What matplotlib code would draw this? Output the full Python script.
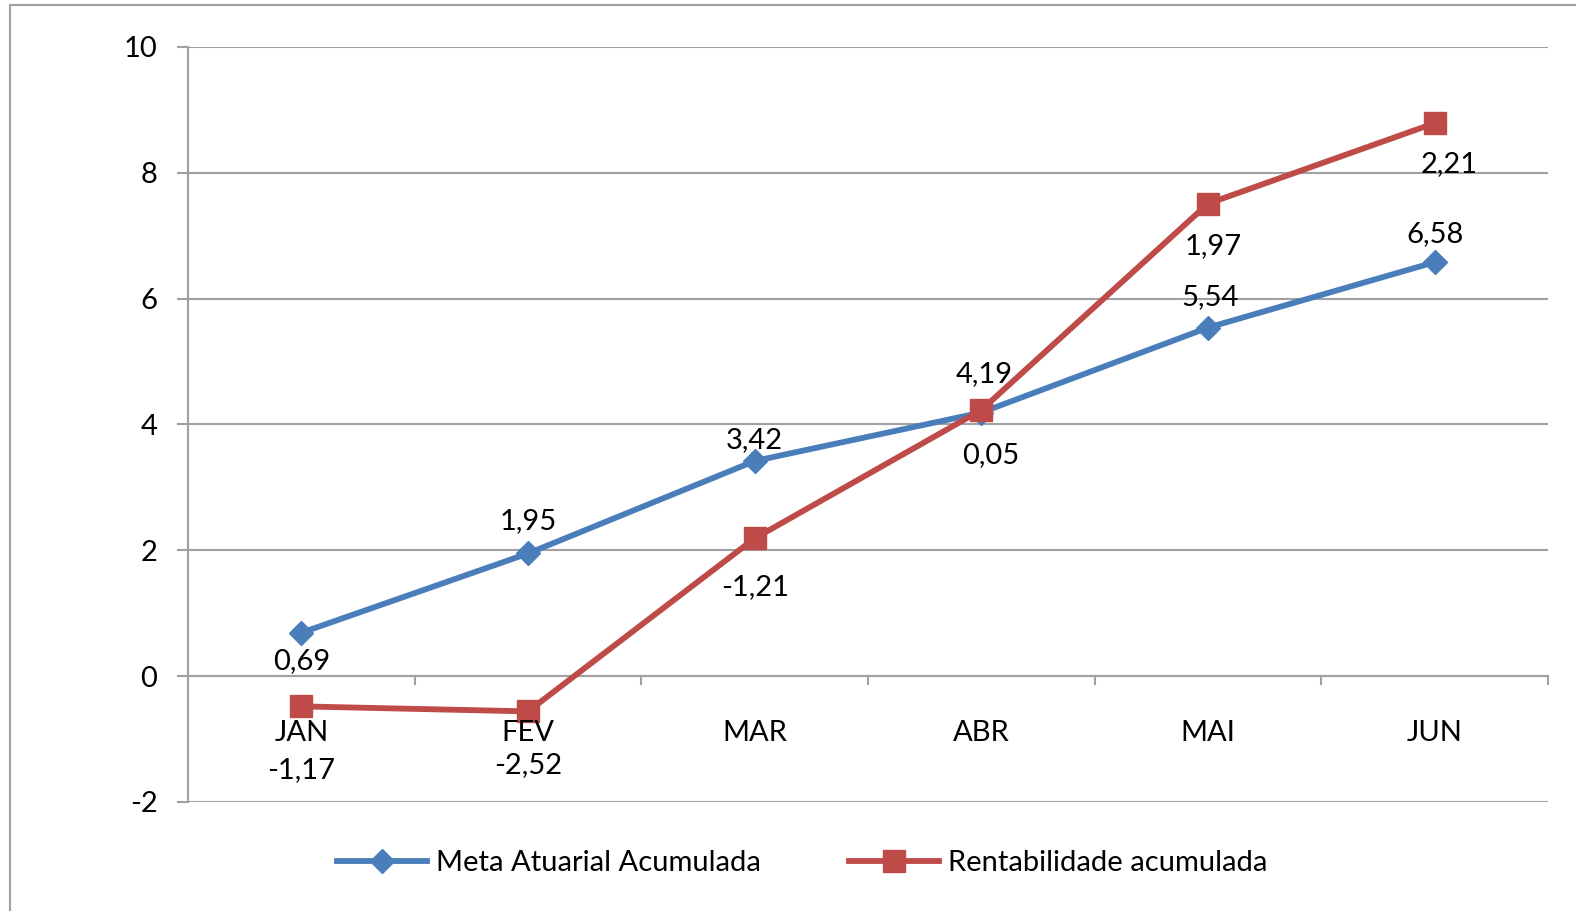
import numpy as np
import matplotlib.pyplot as plt
from matplotlib.patches import Rectangle

# Data
meses = ['JAN', 'FEV', 'MAR', 'ABR', 'MAI', 'JUN']
meta = [0.69, 1.95, 3.42, 4.19, 5.54, 6.58]
meta_rotulos = ['0,69', '1,95', '3,42', '4,19', '5,54', '6,58']
rent = [-0.48, -0.56, 2.19, 4.23, 7.51, 8.79]
rent_rotulos = ['-1,17', '-2,52', '-1,21', '0,05', '1,97', '2,21']

# label offsets in pixels (dx, dy)
meta_off = [(0, -28), (0, 32), (0, 21), (3, 38), (2, 31), (0, 28)]
rent_off = [(0, -64), (0, -54), (0, -49), (9, -45), (5, -42), (15, -41)]

azul = '#4A7EBB'
vermelho = '#BE4B48'
cinza = '#A0A0A0'
fs = 21

plt.rcParams['font.family'] = ['Lato', 'DejaVu Sans']

fig = plt.figure(figsize=(15.76, 9.11), dpi=100)
ax = fig.add_axes([188/1576, 1 - 802/911, (1548 - 188)/1576, (802 - 47)/911])

# outer chart border (left/top visible)
fig.patches.append(Rectangle((10/1576, -0.1), 1.2, 1 - 5/911 + 0.1,
                             transform=fig.transFigure, fill=False,
                             edgecolor=cinza, linewidth=1.5))

x = np.arange(len(meses))
ax.plot(x, meta, color=azul, lw=4.2, marker='D', ms=12, label='Meta Atuarial Acumulada')
ax.plot(x, rent, color=vermelho, lw=4.2, marker='s', ms=16, label='Rentabilidade acumulada')

for i in range(len(meses)):
    ax.annotate(meta_rotulos[i], (x[i], meta[i]), xytext=meta_off[i],
                textcoords='offset pixels', ha='center', va='center', fontsize=fs)
    ax.annotate(rent_rotulos[i], (x[i], rent[i]), xytext=rent_off[i],
                textcoords='offset pixels', ha='center', va='center', fontsize=fs)

ax.set_xlim(-0.5, len(meses) - 0.5)
ax.set_ylim(-2, 10)
ax.set_yticks(range(-2, 11, 2))
ax.set_yticklabels([str(v) for v in range(-2, 11, 2)], fontsize=fs)
ax.yaxis.grid(True, color=cinza, lw=1.5)
ax.set_axisbelow(True)
ax.tick_params(axis='y', length=8, width=1.5, color=cinza, pad=14)

for s in ['top', 'right', 'bottom']:
    ax.spines[s].set_visible(False)
ax.spines['left'].set_color(cinza)
ax.spines['left'].set_linewidth(1.5)

# horizontal axis crossing at zero
ax.axhline(0, color=cinza, lw=1.5, zorder=1)
ax.set_xticks([])
for b in np.arange(-0.5, len(meses), 1.0):
    ax.plot([b, b], [0, -0.13], color=cinza, lw=1.5, zorder=1, clip_on=False)
for i, m in enumerate(meses):
    ax.text(x[i], -0.9, m, ha='center', va='center', fontsize=fs)

fig.legend(loc='center', bbox_to_anchor=(802/1576, 1 - 863/911), ncol=2,
           frameon=False, fontsize=fs, handlelength=3.1, columnspacing=3.0,
           handletextpad=0.3)

fig.savefig('out.png', dpi=100)
